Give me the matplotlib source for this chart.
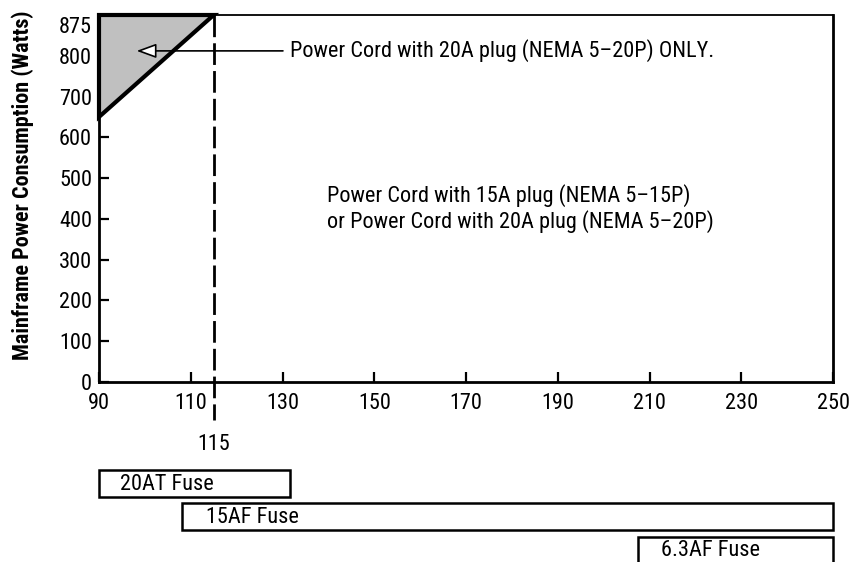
import matplotlib.pyplot as plt
from matplotlib.patches import Polygon, Rectangle
import matplotlib.transforms as mtransforms

# --- Data ---
x_ticks = [90, 110, 130, 150, 170, 190, 210, 230, 250]
y_ticks = [0, 100, 200, 300, 400, 500, 600, 700, 800, 875]
y_top = 900            # drawn top of the frame (labelled 875 in the original)
cutoff_voltage = 115

# shaded region: 20A plug only
region_x = [90, 115, 90]
region_y = [650, y_top, y_top]

# fuse ranges
fuse_names = ["20AT Fuse", "15AF Fuse", "6.3AF Fuse"]
fuse_start = [90, 108, 207.4]
fuse_end = [131.6, 250, 250]

plt.rcParams['font.family'] = ['Roboto Condensed', 'DejaVu Sans']
plt.rcParams['font.stretch'] = 'condensed'
FS = 16

fig = plt.figure(figsize=(8.52, 5.62), dpi=100)
# axes frame in pixels: left 99, right 833, top 15, bottom 382
ax = fig.add_axes([99 / 852, (562 - 382) / 562, 734 / 852, 367 / 562])

ax.set_xlim(90, 250)
ax.set_ylim(0, y_top)
ax.set_xticks(x_ticks)
ax.set_yticks(y_ticks)
ax.tick_params(direction='in', length=7, width=1.6, labelsize=FS)
ax.tick_params(axis='x', pad=8)
ax.tick_params(axis='y', pad=5)
ax.yaxis.get_major_ticks()[-1].tick1line.set_visible(False)
for side in ['left', 'bottom', 'right']:
    ax.spines[side].set_linewidth(2)
ax.spines['top'].set_linewidth(1.3)

ax.set_ylabel("Mainframe Power Consumption (Watts)", fontsize=16,
              fontweight='bold')
ax.yaxis.set_label_coords(-0.088, 0.537)

# shaded triangle
tri = Polygon(list(zip(region_x, region_y)), closed=True, facecolor='#c0c0c0',
              edgecolor='black', linewidth=3, clip_on=False, zorder=3,
              joinstyle='miter')
ax.add_patch(tri)

# dashed line at 115 V, extended below the axis
trans_x = mtransforms.blended_transform_factory(ax.transData, ax.transAxes)
ax.plot([cutoff_voltage, cutoff_voltage], [1.0, -0.104], transform=trans_x,
        color='black', linewidth=2, dashes=(7.8, 2.2), clip_on=False, zorder=4)
ax.text(cutoff_voltage, -0.170, str(cutoff_voltage), transform=trans_x,
        ha='center', va='center', fontsize=FS)

# annotations
ax.annotate("", xy=(98.2, 812), xytext=(130.1, 812),
            arrowprops=dict(arrowstyle='-|>,head_length=0.6,head_width=0.22',
                            color='black', lw=1.2, mutation_scale=20,
                            shrinkA=0, shrinkB=0, fc='white'),
            zorder=5)
ax.text(131.6, 812, "Power Cord with 20A plug (NEMA 5\u201320P) ONLY.",
        ha='left', va='center', fontsize=FS)
ax.text(139.7, 425, "Power Cord with 15A plug (NEMA 5\u201315P)\n"
        "or Power Cord with 20A plug (NEMA 5\u201320P)",
        ha='left', va='center', fontsize=FS, linespacing=1.15)

# fuse boxes below the chart
fuse_top = [-0.241, -0.330, -0.421]
fuse_h = 0.0725
text_off = [4.6, 5.4, 5.2]
for name, x0, x1, top, off in zip(fuse_names, fuse_start, fuse_end, fuse_top, text_off):
    r = Rectangle((x0, top - fuse_h), x1 - x0, fuse_h, transform=trans_x,
                  facecolor='white', edgecolor='black', linewidth=1.8,
                  clip_on=False)
    ax.add_patch(r)
    ax.text(x0 + off, top - fuse_h / 2 - 0.003, name, transform=trans_x,
            ha='left', va='center', fontsize=FS)

fig.savefig("out.png", dpi=100)
